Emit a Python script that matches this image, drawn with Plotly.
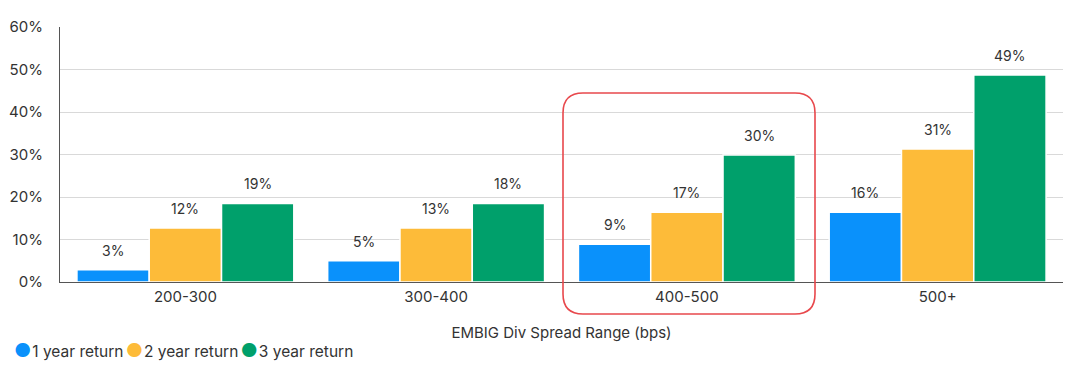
import plotly.graph_objects as go

categories = ["200-300", "300-400", "400-500", "500+"]
series_names = ["1 year return", "2 year return", "3 year return"]
one_year = [2.9, 5.0, 8.9, 16.4]
two_year = [12.7, 12.7, 16.4, 31.3]
three_year = [18.5, 18.5, 29.9, 48.7]
one_year_labels = ["3%", "5%", "9%", "16%"]
two_year_labels = ["12%", "13%", "17%", "31%"]
three_year_labels = ["19%", "18%", "30%", "49%"]
colors = ["#0a91fb", "#fdbb39", "#00a06b"]
y_ticks = [0, 10, 20, 30, 40, 50, 60]
y_tick_text = ["0%", "10%", "20%", "30%", "40%", "50%", "60%"]

FONT = "Inter, Roboto, sans-serif"
OFF = 8  # page body margin
W, H = 1080 - OFF, 379 - OFF
ML, MR, MT = 60 - OFF, 17, 27 - OFF
PW, PH = 1003, 255
MB = H - MT - PH
BARGAP = 0.135

def px_to_paper_x(px):
    return (px - OFF - ML) / PW

def px_to_paper_y(py):
    return (MT + PH - (py - OFF)) / PH

fig = go.Figure()
all_vals = [one_year, two_year, three_year]
all_labels = [one_year_labels, two_year_labels, three_year_labels]
n_series = len(all_vals)
bar_w = (1 - BARGAP) / n_series
for j, (name, vals, labels, col) in enumerate(zip(series_names, all_vals, all_labels, colors)):
    fig.add_trace(go.Bar(
        x=categories, y=vals, name=name,
        marker=dict(color=col, line=dict(color="white", width=1.5)),
        showlegend=False, hoverinfo="skip",
    ))
    # value labels above each bar
    for i, (v, lab) in enumerate(zip(vals, labels)):
        fig.add_annotation(
            x=i + (j - (n_series - 1) / 2) * bar_w, y=v, xref="x", yref="y",
            text=lab, showarrow=False, yanchor="bottom", yshift=9,
            font=dict(size=14, color="#333333", family=FONT),
        )

# legend drawn as a compact line of text with coloured dots
legend_text = "<span style='font-size:8px'> </span>".join(
    f"<span style='color:{c};font-size:19px'>●</span><span style='font-size:3px'> </span>{n}"
    for n, c in zip(series_names, colors)
)
fig.add_annotation(text=legend_text, xref="paper", yref="paper",
                   x=px_to_paper_x(12), y=px_to_paper_y(350),
                   xanchor="left", yanchor="middle", showarrow=False,
                   font=dict(size=15.5, color="#333333", family=FONT))

# rounded highlight rectangle around 400-500 (pixel geometry -> paper coords)
x0, x1 = px_to_paper_x(563), px_to_paper_x(815)
y1, y0 = px_to_paper_y(93), px_to_paper_y(314)
r = 20
rx, ry = r / PW, r / PH
path = (f"M {x0+rx},{y1} L {x1-rx},{y1} Q {x1},{y1} {x1},{y1-ry} "
        f"L {x1},{y0+ry} Q {x1},{y0} {x1-rx},{y0} "
        f"L {x0+rx},{y0} Q {x0},{y0} {x0},{y0+ry} "
        f"L {x0},{y1-ry} Q {x0},{y1} {x0+rx},{y1} Z")
fig.add_shape(type="path", path=path, xref="paper", yref="paper",
              line=dict(color="#e8484c", width=1.6), fillcolor="rgba(0,0,0,0)")

fig.update_layout(
    width=W, height=H,
    margin=dict(l=ML, r=MR, t=MT, b=MB, autoexpand=False),
    plot_bgcolor="white", paper_bgcolor="white",
    barmode="group", bargap=BARGAP, bargroupgap=0.0,
    font=dict(family=FONT, color="#333333", size=15),
    showlegend=False,
    xaxis=dict(
        automargin=False,
        showline=True, linecolor="#555555", linewidth=1.2, ticks="",
        tickfont=dict(size=15, color="#333333"), ticklabelstandoff=1,
        title=dict(text="EMBIG Div Spread Range (bps)", font=dict(size=15, color="#333333"), standoff=22),
    ),
    yaxis=dict(
        automargin=False,
        range=[0, 60], tickmode="array", tickvals=y_ticks, ticktext=y_tick_text,
        showline=True, linecolor="#555555", linewidth=1.2,
        showgrid=True, gridcolor="#d9d9d9", gridwidth=1.2, zeroline=False,
        tickfont=dict(size=15, color="#333333"), ticks="", ticklabelstandoff=13,
    ),
)

fig.write_html("out.html")
